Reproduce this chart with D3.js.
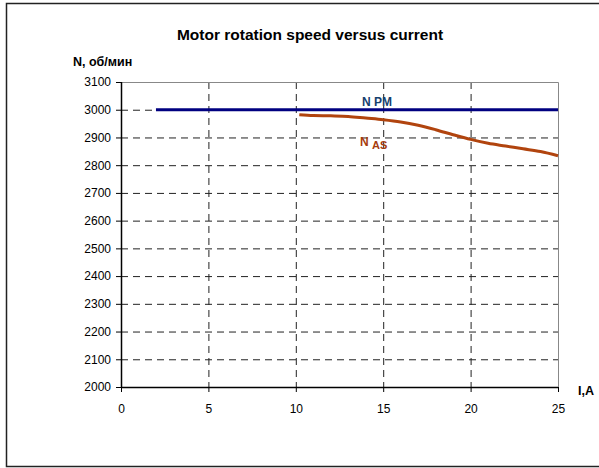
<!DOCTYPE html>
<meta charset="utf-8">
<style>
body {
  margin: 0;
  font-family: "Liberation Sans", Arial, sans-serif;
  background: #fff;
}
.axis text {
  font: 12px "Liberation Sans", Arial, sans-serif;
  fill: #000;
}
.grid line {
  stroke: #222;
  stroke-dasharray: 7,5;
}
</style>
<body>
<script src="https://d3js.org/d3.v7.min.js"></script>
<script>
'use strict';

// current, A
const xTicks = [0, 5, 10, 15, 20, 25];
const yTicks = [2000, 2100, 2200, 2300, 2400, 2500, 2600, 2700, 2800, 2900, 3000, 3100];

// permanent magnet motor
const pmCurrent = [2, 25];
const pmSpeed = [3000, 3000];

// asynchronous motor
const asCurrent = [10.2, 11, 12, 13, 14, 15, 16, 17, 18, 19, 20, 21, 22, 23, 24, 25];
const asSpeed = [2982, 2979, 2978, 2976, 2970, 2964, 2956, 2944, 2928, 2910, 2893, 2879, 2869, 2859, 2849, 2834];

const width = 599,
      height = 468,
      margin = {top: 82, right: 41, bottom: 81, left: 121},
      w = width - margin.left - margin.right,
      h = height - margin.top - margin.bottom;

const svg = d3.select("body").append("svg")
    .attr("width", width)
    .attr("height", height);

// outer frame
svg.append("rect")
    .attr("x", 6.5).attr("y", 3.5)
    .attr("width", 600).attr("height", 463)
    .attr("fill", "none")
    .attr("stroke", "#222")
    .attr("stroke-width", 1.5);

const x = d3.scaleLinear().domain([0, 25]).range([0, w]),
      y = d3.scaleLinear().domain([2000, 3100]).range([h, 0]);

const g = svg.append("g")
    .attr("transform", "translate(" + margin.left + "," + margin.top + ")");

// dashed grid
g.append("g").attr("class", "grid")
  .selectAll("line")
  .data(yTicks.filter(d => d > 2000 && d < 3100))
  .enter().append("line")
    .attr("x1", 0).attr("x2", w)
    .attr("y1", d => y(d) + 0.5).attr("y2", d => y(d) + 0.5);

g.append("g").attr("class", "grid")
  .selectAll("line")
  .data(xTicks.filter(d => d > 0 && d < 25))
  .enter().append("line")
    .attr("y1", 0).attr("y2", h)
    .attr("x1", d => x(d) + 0.5).attr("x2", d => x(d) + 0.5);

// plot area border top / right
g.append("path")
    .attr("d", "M0,0.5H" + (w + 0.5) + "V" + h)
    .attr("fill", "none")
    .attr("stroke", "#888")
    .attr("stroke-width", 1);

// axes
g.append("g").attr("class", "axis")
    .call(d3.axisLeft(y).tickValues(yTicks).tickFormat(d3.format("d")).tickSize(5).tickPadding(5))
    .call(a => a.select(".domain").remove());

g.append("line")
    .attr("x1", 0.5).attr("x2", 0.5)
    .attr("y1", 0).attr("y2", h)
    .attr("stroke", "#000").attr("stroke-width", 1.5);

g.append("g").attr("class", "axis")
    .attr("transform", "translate(0," + h + ")")
    .call(d3.axisBottom(x).tickValues(xTicks).tickSize(5).tickPadding(12))
    .call(a => a.select(".domain").remove());

g.append("line")
    .attr("x1", 0).attr("x2", w)
    .attr("y1", h + 0.5).attr("y2", h + 0.5)
    .attr("stroke", "#000").attr("stroke-width", 1.5);

// series
const line = d3.line()
    .x(d => x(d[0]))
    .y(d => y(d[1]));

g.append("path")
    .datum(d3.zip(asCurrent, asSpeed))
    .attr("d", line.curve(d3.curveMonotoneX))
    .attr("fill", "none")
    .attr("stroke", "#b1440e")
    .attr("stroke-width", 3);

g.append("path")
    .datum(d3.zip(pmCurrent, pmSpeed))
    .attr("d", d3.line().x(d => x(d[0])).y(d => y(d[1])))
    .attr("fill", "none")
    .attr("stroke", "#000080")
    .attr("stroke-width", 3);

// labels
svg.append("text")
    .attr("x", 310).attr("y", 40)
    .attr("text-anchor", "middle")
    .style("font", "bold 15.5px 'Liberation Sans', Arial, sans-serif")
    .text("Motor rotation speed versus current");

svg.append("text")
    .attr("x", 73).attr("y", 66)
    .style("font", "bold 12.5px 'Liberation Sans', Arial, sans-serif")
    .text("N, об/мин");

svg.append("text")
    .attr("x", 578).attr("y", 395)
    .style("font", "bold 12.5px 'Liberation Sans', Arial, sans-serif")
    .text("I,A");

svg.append("text")
    .attr("x", 362).attr("y", 106)
    .attr("fill", "#16406e")
    .style("font", "bold 12px 'Liberation Sans', Arial, sans-serif")
    .text("N PM");

const asLabel = svg.append("text")
    .attr("x", 360).attr("y", 146)
    .attr("fill", "#a63c0e")
    .style("font", "bold 12px 'Liberation Sans', Arial, sans-serif");
asLabel.append("tspan").text("N ");
asLabel.append("tspan").attr("dy", 3).style("font-size", "11px").text("AS");
</script>
